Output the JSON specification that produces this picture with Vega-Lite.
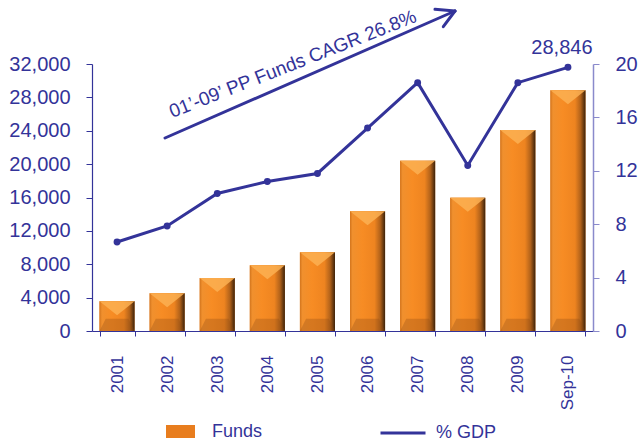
{
  "$schema": "https://vega.github.io/schema/vega-lite/v6.json",
  "width": 501,
  "height": 267,
  "autosize": "none",
  "padding": {"left": 92, "top": 64, "right": 46, "bottom": 109},
  "background": "white",
  "config": {
    "view": {"stroke": null},
    "font": "Liberation Sans",
    "axis": {"grid": false, "labelFont": "Liberation Sans", "labelColor": "#333399"},
    "legend": {"labelFont": "Liberation Sans"}
  },
  "datasets": {
    "main": [
      {"year": "2001", "funds": 3560, "gdp": 6.67},
      {"year": "2002", "funds": 4520, "gdp": 7.87},
      {"year": "2003", "funds": 6360, "gdp": 10.3},
      {"year": "2004", "funds": 7880, "gdp": 11.2},
      {"year": "2005", "funds": 9440, "gdp": 11.8},
      {"year": "2006", "funds": 14360, "gdp": 15.2},
      {"year": "2007", "funds": 20400, "gdp": 18.6},
      {"year": "2008", "funds": 15960, "gdp": 12.4},
      {"year": "2009", "funds": 24080, "gdp": 18.6},
      {"year": "Sep-10", "funds": 28846, "gdp": 19.75}
    ],
    "arrow": [
      {"x": 1.457, "y": 23131, "x2": 7.245, "y2": 38352},
      {"x": 6.846, "y": 38556, "x2": 7.245, "y2": 38352},
      {"x": 7.012, "y": 36470, "x2": 7.245, "y2": 38352}
    ],
    "note": [
      {"x": 4.052, "y": 31316, "label": "01’-09’ PP Funds CAGR 26.8%"}
    ]
  },
  "layer": [
    {
      "data": {"name": "main"},
      "encoding": {
        "x": {
          "field": "year",
          "type": "nominal",
          "sort": null,
          "scale": {"paddingInner": 0.3, "paddingOuter": 0.15},
          "axis": {
            "title": null,
            "labelAngle": -90,
            "labelAlign": "right",
            "labelBaseline": "middle",
            "labelFontSize": 17,
            "labelPadding": 19,
            "tickBand": "extent",
            "tickSize": 5,
            "tickColor": "#333399",
            "domainColor": "#333399",
            "domainWidth": 1.2
          }
        }
      },
      "layer": [
        {
          "encoding": {
            "y": {
              "field": "funds",
              "type": "quantitative",
              "scale": {"domain": [0, 32000], "nice": false},
              "axis": {
                "title": null,
                "orient": "left",
                "values": [0, 4000, 8000, 12000, 16000, 20000, 24000, 28000, 32000],
                "format": ",d",
                "labelFontSize": 20,
                "labelPadding": 16,
                "tickSize": 6,
                "tickColor": "#333399",
                "domainColor": "#333399",
                "domainWidth": 1.2
              }
            }
          },
          "layer": [
            {
              "mark": {"type": "bar"},
              "encoding": {
                "fill": {
                  "datum": "Funds",
                  "scale": {"domain": ["Funds"], "range": ["#e87d1e"]},
                  "legend": {
                    "orient": "none",
                    "legendX": 74,
                    "legendY": 353,
                    "title": null,
                    "padding": 0,
                    "symbolType": "M-1,-0.45H1V0.45H-1Z",
                    "symbolSize": 841,
                    "symbolStrokeWidth": 0,
                    "labelFontSize": 18,
                    "labelColor": "#333399",
                    "labelOffset": 17
                  }
                }
              }
            },
            {
              "mark": {
                "type": "bar",
                "color": {
                  "gradient": "linear",
                  "x1": 0, "x2": 1, "y1": 0, "y2": 0,
                  "stops": [
                    {"offset": 0, "color": "#d2741c"},
                    {"offset": 0.07, "color": "#f0902e"},
                    {"offset": 0.35, "color": "#f78c24"},
                    {"offset": 0.7, "color": "#ee8420"},
                    {"offset": 0.86, "color": "#b2621a"},
                    {"offset": 1, "color": "#3c220a"}
                  ]
                }
              }
            },
            {
              "mark": {
                "type": "point",
                "shape": "M-1,0L1,0L0,0.8Z",
                "filled": true,
                "size": 1225,
                "color": "#fcb052",
                "opacity": 0.85,
                "strokeWidth": 0
              }
            },
            {
              "mark": {
                "type": "point",
                "shape": "M-1,0L1,0L0.65,-0.7L-0.65,-0.7Z",
                "filled": true,
                "size": 1225,
                "color": "#8a4a14",
                "opacity": 0.3,
                "strokeWidth": 0
              },
              "encoding": {"y": {"datum": 0, "type": "quantitative"}}
            }
          ]
        },
        {
          "encoding": {
            "y": {
              "field": "gdp",
              "type": "quantitative",
              "scale": {"domain": [0, 20], "nice": false},
              "axis": {
                "title": null,
                "orient": "right",
                "values": [0, 4, 8, 12, 16, 20],
                "labelFontSize": 20,
                "labelPadding": 16,
                "tickSize": 6,
                "tickColor": "#8a8acc",
                "domainColor": "#8a8acc",
                "domainWidth": 1.5
              }
            }
          },
          "layer": [
            {
              "mark": {"type": "line", "strokeWidth": 3},
              "encoding": {
                "stroke": {
                  "datum": "% GDP",
                  "scale": {"domain": ["% GDP"], "range": ["#333399"]},
                  "legend": {
                    "orient": "none",
                    "legendX": 287,
                    "legendY": 345,
                    "title": null,
                    "padding": 0,
                    "symbolType": "stroke",
                    "symbolSize": 2025,
                    "symbolStrokeWidth": 3,
                    "labelFontSize": 18,
                    "labelColor": "#333399",
                    "labelOffset": 9
                  }
                }
              }
            },
            {
              "mark": {"type": "point", "filled": true, "size": 48, "color": "#333399", "opacity": 1}
            },
            {
              "transform": [{"filter": "datum.year === 'Sep-10'"}],
              "mark": {
                "type": "text",
                "fontSize": 20,
                "color": "#333399",
                "baseline": "alphabetic",
                "align": "center",
                "dy": -13,
                "dx": -6
              },
              "encoding": {"text": {"field": "funds", "type": "quantitative", "format": ",d"}}
            }
          ]
        }
      ],
      "resolve": {"scale": {"y": "independent"}}
    },
    {
      "data": {"name": "arrow"},
      "mark": {"type": "rule", "strokeWidth": 3, "color": "#333399", "strokeCap": "round"},
      "encoding": {
        "x": {"field": "x", "type": "quantitative", "scale": {"domain": [0, 10], "nice": false, "zero": false}, "axis": null},
        "x2": {"field": "x2"},
        "y": {"field": "y", "type": "quantitative", "scale": {"domain": [0, 32000], "nice": false}, "axis": null},
        "y2": {"field": "y2"}
      }
    },
    {
      "data": {"name": "note"},
      "mark": {
        "type": "text",
        "fontSize": 19,
        "color": "#333399",
        "angle": -21.5,
        "align": "center",
        "baseline": "alphabetic"
      },
      "encoding": {
        "x": {"field": "x", "type": "quantitative", "scale": {"domain": [0, 10], "nice": false, "zero": false}, "axis": null},
        "y": {"field": "y", "type": "quantitative", "scale": {"domain": [0, 32000], "nice": false}, "axis": null},
        "text": {"field": "label"}
      }
    }
  ],
  "resolve": {"scale": {"x": "independent", "y": "independent"}}
}
